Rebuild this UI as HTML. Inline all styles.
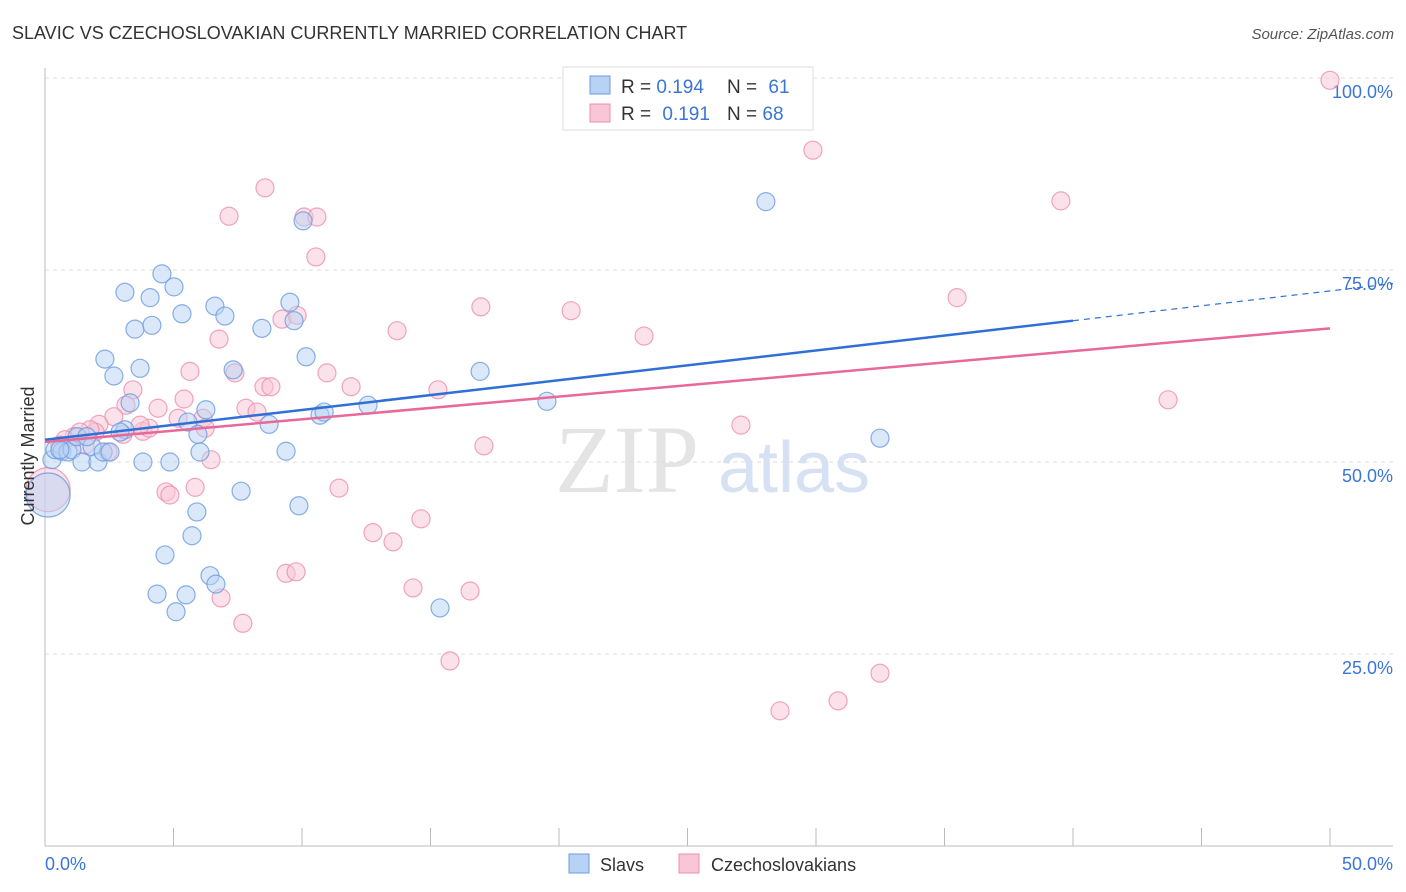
<!DOCTYPE html>
<html><head><meta charset="utf-8"><style>
body{margin:0;background:#fff;font-family:"Liberation Sans",sans-serif;}
svg{display:block}
</style></head><body>
<svg id="chart" width="1406" height="892" xmlns="http://www.w3.org/2000/svg">
<text x="12" y="39" font-size="18" fill="#333">SLAVIC VS CZECHOSLOVAKIAN CURRENTLY MARRIED CORRELATION CHART</text>
<text x="1394" y="39" font-size="15" fill="#555" font-style="italic" text-anchor="end">Source: ZipAtlas.com</text>
<text x="555" y="492" font-size="96" fill="#e4e4e4" font-family="Liberation Serif,serif">ZIP</text>
<text x="718" y="492" font-size="72" fill="#d6e2f3">atlas</text>
<g id="grid"></g>
<g id="axes"></g>
<g id="marks"></g>
<text transform="translate(34,456) rotate(-90)" font-size="18" fill="#333" text-anchor="middle">Currently Married</text>
<g>
<rect x="563" y="67" width="250" height="63" fill="#fff" stroke="#ddd"/>
<rect x="590" y="76" width="20" height="18" fill="#b8d2f4" stroke="#6a9be0"/>
<rect x="590" y="104" width="20" height="18" fill="#f8c6d6" stroke="#ec8fae"/>
<text x="621" y="93" font-size="19" fill="#333">R = <tspan fill="#3a75d8">0.194</tspan></text>
<text x="727" y="93" font-size="19" fill="#333">N = <tspan fill="#3a75d8" dx="6">61</tspan></text>
<text x="621" y="120" font-size="19" fill="#333">R = <tspan fill="#3a75d8" dx="6">0.191</tspan></text>
<text x="727" y="120" font-size="19" fill="#333">N = <tspan fill="#3a75d8">68</tspan></text>
</g>
<g>
<rect x="569" y="854" width="20" height="19" fill="#b8d2f4" stroke="#6a9be0"/>
<text x="600" y="871" font-size="18" fill="#333">Slavs</text>
<rect x="679" y="854" width="20" height="19" fill="#f8c6d6" stroke="#ec8fae"/>
<text x="711" y="871" font-size="18" fill="#333">Czechoslovakians</text>
</g>
</svg>
<script>
const xTicks=[0,5,10,15,20,25,30,35,40,45,50];
const yTicks=[25,50,75,100];
const yTickLabels=["25.0%","50.0%","75.0%","100.0%"];
const slavX=[0.27,0.39,0.66,0.89,1.05,1.25,1.44,1.83,2.06,2.26,2.53,2.33,2.68,3.11,3.50,3.31,3.11,3.70,3.81,4.09,4.16,4.36,4.55,4.67,4.86,5.02,5.10,5.33,5.49,5.56,5.72,5.91,6.03,6.26,6.42,6.61,6.65,7.00,7.32,7.63,8.44,8.72,9.38,9.53,9.69,9.88,10.04,10.16,10.70,10.86,12.57,15.37,16.93,19.53,28.05,32.49,0.12,0.58,1.63,2.92,5.95];
const slavY=[50.3,51.6,51.4,51.3,51.6,53.3,50.0,52.0,50.0,51.3,51.3,63.4,61.2,72.1,67.3,57.7,54.2,62.2,50.0,71.4,67.8,32.8,74.5,37.9,50.0,72.8,30.5,69.3,32.7,55.2,40.4,43.5,51.3,56.8,35.2,70.3,34.1,69.0,62.0,46.2,67.4,54.9,51.4,70.8,68.4,44.3,81.4,63.7,56.1,56.5,57.4,31.0,61.8,57.9,83.9,53.1,45.7,51.6,53.3,53.9,53.6];
const czX=[50,29.88,39.53,8.56,7.16,10.08,10.58,10.54,35.49,16.96,20.47,23.31,6.77,13.70,9.22,9.81,5.64,7.39,8.52,8.79,10.97,11.91,15.29,3.42,3.15,4.40,5.41,7.82,8.25,6.15,5.18,2.68,2.10,3.81,4.05,3.04,1.95,1.13,1.56,2.45,6.46,17.08,27.08,43.70,4.71,4.86,5.84,11.44,12.76,13.54,14.63,6.85,7.70,9.38,9.77,14.32,16.54,15.76,32.49,30.86,28.60,0.12,0.78,1.75,0.58,1.36,6.23,3.70];
const czY=[99.7,90.6,84.0,85.7,82.0,81.9,81.9,76.7,71.4,70.2,69.7,66.4,66.0,67.1,68.6,69.1,61.8,61.6,59.8,59.8,61.6,59.8,59.4,59.4,57.4,57.0,58.2,57.0,56.5,55.7,55.7,55.9,54.9,54.0,54.4,53.6,53.9,53.3,52.2,51.3,50.3,52.1,54.8,58.1,46.1,45.7,46.7,46.6,40.8,39.6,42.6,32.3,29.0,35.5,35.7,33.6,33.2,24.1,22.5,18.9,17.6,46.4,52.9,54.2,52.2,53.9,54.4,54.8];
const slavBig=[56];
const czBig=[61];
const slavLine=[52.9,0.3875];
const czLine=[52.6,0.296];
const X=v=>45+v*25.7;
const Y=v=>846-v*7.68;
const NS="http://www.w3.org/2000/svg";
function mk(tag,attrs,parent){const e=document.createElementNS(NS,tag);for(const k in attrs)e.setAttribute(k,attrs[k]);parent.appendChild(e);return e;}
const grid=document.getElementById('grid'),axes=document.getElementById('axes'),marks=document.getElementById('marks');
yTicks.forEach((t,i)=>{
 const l=mk('line',{x1:45,x2:1393,y1:Y(t),y2:Y(t),stroke:'#ddd','stroke-dasharray':'4,4'},grid);
 
 
 const tx=mk('text',{x:1393,y:Y(t)+20,'font-size':18,fill:'#3a75d8','text-anchor':'end'},axes);
 tx.textContent=yTickLabels[i];
 
 
});
const la=mk('line',{x1:45,x2:45,y1:68,y2:846,stroke:'#bbb'},axes);


const ba=mk('line',{x1:45,x2:1393,y1:846,y2:846,stroke:'#bbb'},axes);


xTicks.forEach(t=>{
 const l=mk('line',{x1:X(t),x2:X(t),y1:828,y2:846,stroke:'#bbb'},axes);
 
 
});
const xl0=mk('text',{x:45,y:870,'font-size':18,fill:'#3a75d8'},axes);xl0.textContent='0.0%';


const xl1=mk('text',{x:1393,y:870,'font-size':18,fill:'#3a75d8','text-anchor':'end'},axes);xl1.textContent='50.0%';


function pts(xs,ys,big,fill,stroke,name){
 xs.forEach((x,i)=>{
  const c=mk('circle',{cx:X(x),cy:Y(ys[i]),r:big.includes(i)?22:9,fill:fill,'fill-opacity':0.5,stroke:stroke,'stroke-width':1.2,'stroke-opacity':0.8},marks);
  
  
 });
}
pts(czX,czY,czBig,'#f8c6d6','#ec8fae','czech-point');
pts(slavX,slavY,slavBig,'#b8d2f4','#6a9be0','slav-point');
const bl=mk('line',{x1:X(0),y1:Y(slavLine[0]),x2:X(40),y2:Y(slavLine[0]+40*slavLine[1]),stroke:'#2f6fd6','stroke-width':2.5},marks);


const bd=mk('line',{x1:X(40),y1:Y(slavLine[0]+40*slavLine[1]),x2:1393,y2:Y(slavLine[0]+52.45*slavLine[1]),stroke:'#2f6fd6','stroke-width':1.2,'stroke-dasharray':'6,5'},marks);


const pl=mk('line',{x1:X(0),y1:Y(czLine[0]),x2:X(50),y2:Y(czLine[0]+50*czLine[1]),stroke:'#e8689a','stroke-width':2.5},marks);


</script>
</body></html>
